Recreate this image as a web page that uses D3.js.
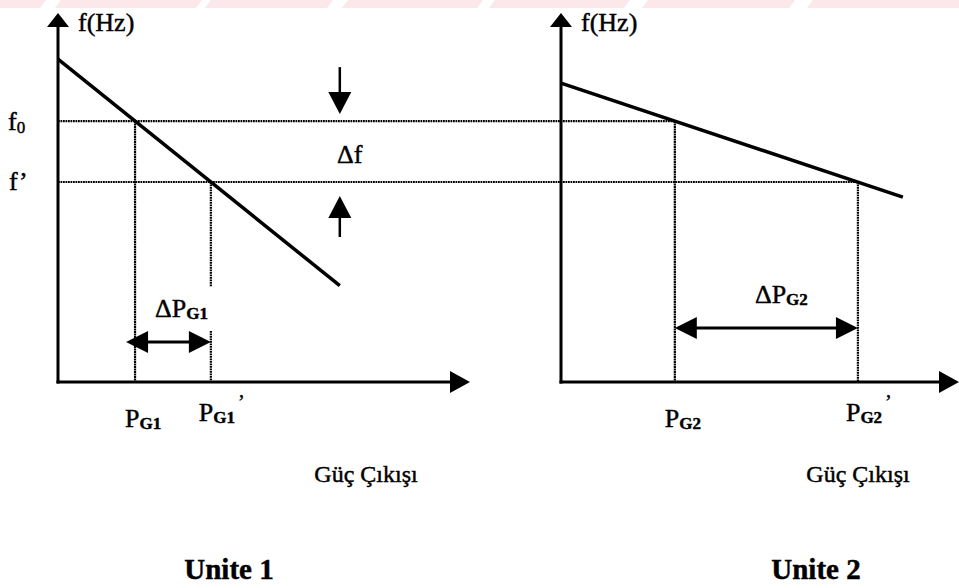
<!DOCTYPE html>
<html>
<head>
<meta charset="utf-8">
<script src="https://cdn.jsdelivr.net/npm/d3@7"></script>
<style>
  html, body { margin: 0; padding: 0; background: #fff; }
  svg { display: block; }
</style>
</head>
<body>
<svg id="chart" width="959" height="588" font-family="'Liberation Serif', 'Times New Roman', serif"></svg>
<script>
// Frequency levels before and after the load change (f0, f')
const freqLevels = [70.7, 54.2];
// Droop characteristics: [power output, frequency] end points
const droop1 = [[0, 87.5], [68.4, 26.1]];
const droop2 = [[0, 81.0], [85.9, 50.1]];
// Generator outputs at f0 and at f'
const loads1 = [18.7, 37.1];
const loads2 = [28.6, 74.6];
const unitNames = ["Unite 1", "Unite 2"];
const xTitle = "Güç Çıkışı";
const yTitle = "f(Hz)";

const svg = d3.select("#chart");

// faint band along the top edge of the sheet
const bands = [[-10, 46], [61, 202], [211, 333], [348, 483], [495, 630], [648, 795], [813, 970]];
svg.append("g").selectAll("path").data(bands).join("path")
  .attr("d", d => `M${d[0]},0 L${d[1]},0 L${d[1] - 6},8 L${d[0] - 6},8 Z`)
  .attr("fill", "#fce8ea");

const y = d3.scaleLinear().domain([0, 100]).range([382, 13]);
const x1 = d3.scaleLinear().domain([0, 100]).range([58, 470]);
const x2 = d3.scaleLinear().domain([0, 100]).range([561, 959]);

const fs = 26, fsSub = 17;
const dotted = { stroke: "#000", width: 2.2, dash: "1.8,0.7" };

function txt(g, xs, ys, size) {
  return g.append("text").attr("x", xs).attr("y", ys).attr("font-size", size)
    .attr("fill", "#000").attr("stroke", "#000").attr("stroke-width", 0.45);
}

function tri(g, tip, dir, len, half) {
  const [tx, ty] = tip;
  let pts;
  if (dir === "up") pts = [[tx, ty], [tx - half, ty + len], [tx + half, ty + len]];
  else if (dir === "down") pts = [[tx, ty], [tx - half, ty - len], [tx + half, ty - len]];
  else if (dir === "right") pts = [[tx, ty], [tx - len, ty - half], [tx - len, ty + half]];
  else pts = [[tx, ty], [tx + len, ty - half], [tx + len, ty + half]];
  g.append("path").attr("d", d3.line()(pts) + "Z").attr("fill", "#000");
}

function dline(g, xa, ya, xb, yb) {
  g.append("line").attr("x1", xa).attr("y1", ya).attr("x2", xb).attr("y2", yb)
    .attr("stroke", dotted.stroke).attr("stroke-width", dotted.width)
    .attr("stroke-dasharray", dotted.dash);
}

// label with a subscript and optional prime, e.g. P_G1'
function subLabel(g, xs, ys, main, sub, prime, anchor) {
  const t = txt(g, xs, ys, fs).attr("text-anchor", anchor || "start");
  t.append("tspan").text(main);
  t.append("tspan").attr("font-size", fsSub).attr("dy", 2).attr("font-weight", "bold").text(sub);
  if (prime) t.append("tspan").attr("font-size", 20).attr("dx", 3).attr("dy", -14).text("’");
  return t;
}

const fY = freqLevels.map(y);

// horizontal frequency levels, running across to the second unit's operating points
const gGuide = svg.append("g");
dline(gGuide, x1(0), fY[0], x2(loads2[0]), fY[0]);
dline(gGuide, x1(0), fY[1], x2(loads2[1]), fY[1]);

function panel(x, droop, loads, idx) {
  const g = svg.append("g");
  const axY = y(0);
  // vertical guides from operating points down to the power axis
  dline(g, x(loads[0]), fY[0], x(loads[0]), axY);
  if (idx === 0) {
    dline(g, x(loads[1]), fY[1], x(loads[1]), 287);
    dline(g, x(loads[1]), 331, x(loads[1]), axY);
  } else {
    dline(g, x(loads[1]), fY[1], x(loads[1]), axY);
  }
  // axes
  g.append("line").attr("x1", x(0)).attr("y1", axY + 1.5).attr("x2", x(0)).attr("y2", y(100) + 10)
    .attr("stroke", "#000").attr("stroke-width", 3);
  tri(g, [x(0), y(100)], "up", 14, 11);
  g.append("line").attr("x1", x(0) - 1.5).attr("y1", axY).attr("x2", x(100) - 12).attr("y2", axY)
    .attr("stroke", "#000").attr("stroke-width", 3);
  tri(g, [x(100), axY], "right", 20, 11);
  // droop line
  g.append("path").datum(droop)
    .attr("d", d3.line().x(d => x(d[0])).y(d => y(d[1])))
    .attr("stroke", "#000").attr("stroke-width", 3.5).attr("fill", "none");
  // axis title
  txt(g, x(0) + 20, 31, fs).text(yTitle);
  // operating point labels
  const n = String(idx + 1);
  subLabel(g, x(loads[0]) - 10, 427, "P", "G" + n, false);
  subLabel(g, x(loads[1]) - 12, 421, "P", "G" + n, true);
  // change in output
  const ay = idx === 0 ? 342 : 328;
  const lx = idx === 0 ? x(loads[0]) - 9 : x(loads[0]);
  g.append("line").attr("x1", lx + 10).attr("y1", ay).attr("x2", x(loads[1]) - 10).attr("y2", ay)
    .attr("stroke", "#000").attr("stroke-width", 3);
  tri(g, [lx, ay], "left", 22, 11);
  tri(g, [x(loads[1]), ay], "right", 22, 11);
  const mid = (lx + x(loads[1])) / 2;
  subLabel(g, mid + (idx === 0 ? 13 : 15), ay - 25, "ΔP", "G" + n, false, "middle");
  // bottom titles
  txt(g, idx === 0 ? 366 : 858, 482, 24).attr("text-anchor", "middle").text(xTitle);
  txt(g, idx === 0 ? 229 : 816, 579, 29).attr("font-weight", "bold")
    .attr("text-anchor", "middle").text(unitNames[idx]);
}

panel(x1, droop1, loads1, 0);
panel(x2, droop2, loads2, 1);

// frequency level labels
const gF = svg.append("g");
const t0 = txt(gF, 8, fY[0] + 9, fs);
t0.append("tspan").text("f");
t0.append("tspan").attr("font-size", fsSub).attr("dy", 3).text("0");
txt(gF, 9, fY[1] + 8, fs).text("f’");

// Δf indicator between the two levels
const ax = x1(droop1[1][0]);
const gD = svg.append("g");
gD.append("line").attr("x1", ax).attr("y1", fY[0] - 54).attr("x2", ax).attr("y2", fY[0] - 25)
  .attr("stroke", "#000").attr("stroke-width", 2.5);
tri(gD, [ax, fY[0] - 7], "down", 22, 11.5);
gD.append("line").attr("x1", ax).attr("y1", fY[1] + 34).attr("x2", ax).attr("y2", fY[1] + 55)
  .attr("stroke", "#000").attr("stroke-width", 2.5);
tri(gD, [ax, fY[1] + 14], "up", 22, 11.5);
txt(gD, ax + 10, (fY[0] + fY[1]) / 2 + 11, fs).attr("text-anchor", "middle").text("Δf");
</script>
</body>
</html>
